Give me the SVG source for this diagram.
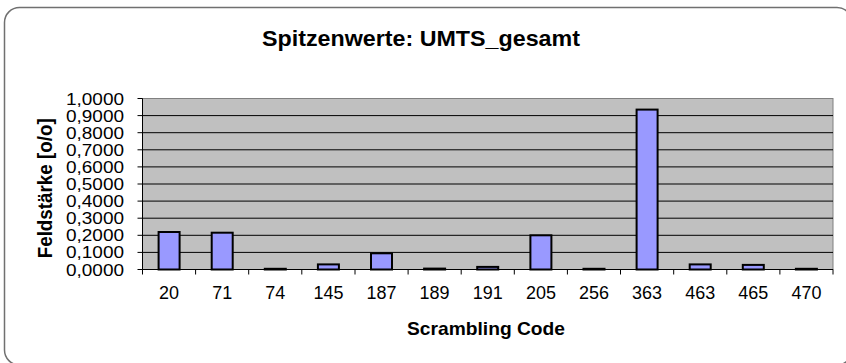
<svg xmlns="http://www.w3.org/2000/svg" width="846" height="363" viewBox="0 0 846 363">
<style>
.t{font-family:"Liberation Sans",Arial,sans-serif;fill:#000}
.b{font-weight:bold}
.yl{font-size:16px;text-anchor:end}
.xl{font-size:18px;text-anchor:middle}
.grid{stroke:#000;stroke-width:1}
.bar{fill:#9999FF;stroke:#000;stroke-width:2}
.ax{stroke:#000;stroke-width:1;fill:none}
</style>
<rect x="4.5" y="7.5" width="847.5" height="357.5" rx="15" ry="15" fill="#fff" stroke="#707070" stroke-width="1.5"/>
<text class="t b" x="421" y="46" font-size="21.5" text-anchor="middle" textLength="318" lengthAdjust="spacingAndGlyphs">Spitzenwerte: UMTS_gesamt</text>
<g id="plot">
<rect x="142.5" y="98.5" width="690.5" height="171" fill="#C0C0C0" stroke="#808080" stroke-width="1"/>
<g class="grid">
<line x1="142.5" y1="252.4" x2="833" y2="252.4"/>
<line x1="142.5" y1="235.3" x2="833" y2="235.3"/>
<line x1="142.5" y1="218.2" x2="833" y2="218.2"/>
<line x1="142.5" y1="201.1" x2="833" y2="201.1"/>
<line x1="142.5" y1="184.0" x2="833" y2="184.0"/>
<line x1="142.5" y1="166.9" x2="833" y2="166.9"/>
<line x1="142.5" y1="149.8" x2="833" y2="149.8"/>
<line x1="142.5" y1="132.7" x2="833" y2="132.7"/>
<line x1="142.5" y1="115.6" x2="833" y2="115.6"/>
</g>
</g>
<g id="connectors">
<path class="ax" d="M142.5 98.5V269.5H833"/>
<path class="ax" d="M137.5 98.5H142.5M137.5 115.6H142.5M137.5 132.7H142.5M137.5 149.8H142.5M137.5 166.9H142.5M137.5 184H142.5M137.5 201.1H142.5M137.5 218.2H142.5M137.5 235.3H142.5M137.5 252.4H142.5M137.5 269.5H142.5"/>
<path class="ax" d="M142.5 269.5V274.5M195.6 269.5V274.5M248.7 269.5V274.5M301.8 269.5V274.5M355 269.5V274.5M408.1 269.5V274.5M461.2 269.5V274.5M514.3 269.5V274.5M567.4 269.5V274.5M620.5 269.5V274.5M673.7 269.5V274.5M726.8 269.5V274.5M779.9 269.5V274.5M833 269.5V274.5"/>
</g>
<g id="bars">
<rect class="bar" x="158.6" y="232" width="21" height="37.5"/>
<rect class="bar" x="211.7" y="232.7" width="21" height="36.8"/>
<rect class="bar" x="264.8" y="268.8" width="21" height="0.7"/>
<rect class="bar" x="317.9" y="264.4" width="21" height="5.1"/>
<rect class="bar" x="371" y="253.3" width="21" height="16.2"/>
<rect class="bar" x="424.1" y="268.6" width="21" height="0.9"/>
<rect class="bar" x="477.2" y="266.9" width="21" height="2.6"/>
<rect class="bar" x="530.4" y="235.3" width="21" height="34.2"/>
<rect class="bar" x="583.5" y="268.8" width="21" height="0.7"/>
<rect class="bar" x="636.6" y="109.6" width="21" height="159.9"/>
<rect class="bar" x="689.7" y="264.4" width="21" height="5.1"/>
<rect class="bar" x="742.8" y="264.9" width="21" height="4.6"/>
<rect class="bar" x="795.9" y="268.8" width="21" height="0.7"/>
</g>
<g id="y-labels" class="t yl">
<text x="124" y="104.5" textLength="58" lengthAdjust="spacingAndGlyphs">1,0000</text>
<text x="124" y="121.6" textLength="58" lengthAdjust="spacingAndGlyphs">0,9000</text>
<text x="124" y="138.7" textLength="58" lengthAdjust="spacingAndGlyphs">0,8000</text>
<text x="124" y="155.8" textLength="58" lengthAdjust="spacingAndGlyphs">0,7000</text>
<text x="124" y="172.9" textLength="58" lengthAdjust="spacingAndGlyphs">0,6000</text>
<text x="124" y="190" textLength="58" lengthAdjust="spacingAndGlyphs">0,5000</text>
<text x="124" y="207.1" textLength="58" lengthAdjust="spacingAndGlyphs">0,4000</text>
<text x="124" y="224.2" textLength="58" lengthAdjust="spacingAndGlyphs">0,3000</text>
<text x="124" y="241.3" textLength="58" lengthAdjust="spacingAndGlyphs">0,2000</text>
<text x="124" y="258.4" textLength="58" lengthAdjust="spacingAndGlyphs">0,1000</text>
<text x="124" y="275.5" textLength="58" lengthAdjust="spacingAndGlyphs">0,0000</text>
</g>
<g id="x-labels" class="t xl">
<text x="169.1" y="298.5" textLength="20" lengthAdjust="spacingAndGlyphs">20</text>
<text x="222.2" y="298.5" textLength="20" lengthAdjust="spacingAndGlyphs">71</text>
<text x="275.3" y="298.5" textLength="20" lengthAdjust="spacingAndGlyphs">74</text>
<text x="328.4" y="298.5" textLength="30" lengthAdjust="spacingAndGlyphs">145</text>
<text x="381.5" y="298.5" textLength="30" lengthAdjust="spacingAndGlyphs">187</text>
<text x="434.6" y="298.5" textLength="30" lengthAdjust="spacingAndGlyphs">189</text>
<text x="487.7" y="298.5" textLength="30" lengthAdjust="spacingAndGlyphs">191</text>
<text x="540.9" y="298.5" textLength="30" lengthAdjust="spacingAndGlyphs">205</text>
<text x="594" y="298.5" textLength="30" lengthAdjust="spacingAndGlyphs">256</text>
<text x="647.1" y="298.5" textLength="30" lengthAdjust="spacingAndGlyphs">363</text>
<text x="700.2" y="298.5" textLength="30" lengthAdjust="spacingAndGlyphs">463</text>
<text x="753.3" y="298.5" textLength="30" lengthAdjust="spacingAndGlyphs">465</text>
<text x="806.4" y="298.5" textLength="30" lengthAdjust="spacingAndGlyphs">470</text>
</g>
<text class="t b" x="486" y="335" font-size="18.5" text-anchor="middle" textLength="158" lengthAdjust="spacingAndGlyphs">Scrambling Code</text>
<text class="t b" transform="translate(51.5 188.3) rotate(-90)" x="0" y="0" font-size="19.5" text-anchor="middle" textLength="140" lengthAdjust="spacingAndGlyphs">Feldstärke [o/o]</text>
</svg>
